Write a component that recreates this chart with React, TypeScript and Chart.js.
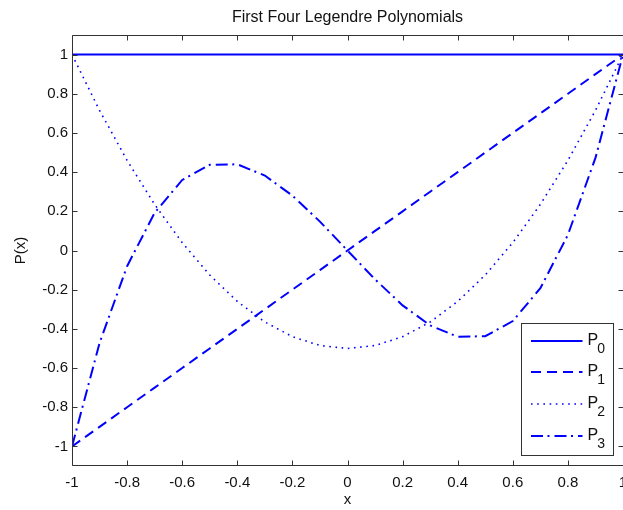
import { useEffect, useRef } from 'react';
import { Chart, registerables } from 'chart.js';

Chart.register(...registerables);

// ---- data ----
const xValues = [-1, -0.9, -0.8, -0.7, -0.6, -0.5, -0.4, -0.3, -0.2, -0.1, 0, 0.1, 0.2, 0.3, 0.4, 0.5, 0.6, 0.7, 0.8, 0.9, 1];
const p0Values = [1, 1, 1, 1, 1, 1, 1, 1, 1, 1, 1, 1, 1, 1, 1, 1, 1, 1, 1, 1, 1];
const p1Values = [-1, -0.9, -0.8, -0.7, -0.6, -0.5, -0.4, -0.3, -0.2, -0.1, 0, 0.1, 0.2, 0.3, 0.4, 0.5, 0.6, 0.7, 0.8, 0.9, 1];
const p2Values = [1, 0.715, 0.46, 0.235, 0.04, -0.125, -0.26, -0.365, -0.44, -0.485, -0.5, -0.485, -0.44, -0.365, -0.26, -0.125, 0.04, 0.235, 0.46, 0.715, 1];
const p3Values = [-1, -0.4725, -0.08, 0.1925, 0.36, 0.4375, 0.44, 0.3825, 0.28, 0.1475, 0, -0.1475, -0.28, -0.3825, -0.44, -0.4375, -0.36, -0.1925, 0.08, 0.4725, 1];

const seriesBase = ['P', 'P', 'P', 'P'];
const seriesSub = ['0', '1', '2', '3'];

const xTickValues = [-1, -0.8, -0.6, -0.4, -0.2, 0, 0.2, 0.4, 0.6, 0.8, 1];
const xTickLabels = ['-1', '-0.8', '-0.6', '-0.4', '-0.2', '0', '0.2', '0.4', '0.6', '0.8', '1'];
const yTickValues = [-1, -0.8, -0.6, -0.4, -0.2, 0, 0.2, 0.4, 0.6, 0.8, 1];
const yTickLabels = ['-1', '-0.8', '-0.6', '-0.4', '-0.2', '0', '0.2', '0.4', '0.6', '0.8', '1'];

const titleText = 'First Four Legendre Polynomials';
const xTitle = 'x';
const yTitle = 'P(x)';

// ---- styles ----
const FONT = '"Liberation Sans", Arial, Helvetica, sans-serif';
const BLUE = '#0000ff';
const AXIS = '#333333';
const TEXT = '#111111';

const W = 623;
const H = 510;

const frame = {
  id: 'frame',
  afterDatasetsDraw(chart: any) {
    const { ctx, chartArea: a, scales } = chart;
    const L = Math.round(a.left) + 0.5;
    const R = Math.round(a.right) + 0.5;
    const T = Math.round(a.top) + 0.5;
    const B = Math.round(a.bottom) - 0.5;
    const tl = 5;
    ctx.save();
    ctx.strokeStyle = AXIS;
    ctx.lineWidth = 1;
    ctx.beginPath();
    ctx.rect(L, T, R - L, B - T);
    for (const v of xTickValues) {
      const px = Math.round(scales.x.getPixelForValue(v)) + 0.5;
      ctx.moveTo(px, B);
      ctx.lineTo(px, B - tl);
      ctx.moveTo(px, T);
      ctx.lineTo(px, T + tl);
    }
    for (const v of yTickValues) {
      const py = Math.round(scales.y.getPixelForValue(v)) + 0.5;
      ctx.moveTo(L, py);
      ctx.lineTo(L + tl, py);
      ctx.moveTo(R, py);
      ctx.lineTo(R - tl, py);
    }
    ctx.stroke();
    ctx.restore();
  },
};

const legendBox = {
  id: 'legendBox',
  afterDraw(chart: any) {
    const { ctx, chartArea: a } = chart;
    const bw = 92;
    const bh = 132;
    const right = Math.round(a.right) - 9.5;
    const bottom = Math.round(a.bottom) - 10.5;
    const left = right - bw;
    const top = bottom - bh;
    ctx.save();
    ctx.fillStyle = '#ffffff';
    ctx.fillRect(left, top, bw, bh);
    ctx.strokeStyle = AXIS;
    ctx.lineWidth = 1;
    ctx.strokeRect(left, top, bw, bh);
    chart.data.datasets.forEach((ds: any, i: number) => {
      const y = Math.round(top + 17.2 + i * 31.7);
      ctx.save();
      ctx.strokeStyle = ds.borderColor;
      ctx.lineWidth = ds.borderWidth;
      ctx.setLineDash(ds.borderDash || []);
      ctx.beginPath();
      ctx.moveTo(left + 9.5, y);
      ctx.lineTo(left + 61, y);
      ctx.stroke();
      ctx.restore();
      ctx.fillStyle = TEXT;
      ctx.textBaseline = 'alphabetic';
      ctx.textAlign = 'left';
      ctx.font = `16px ${FONT}`;
      const tx = left + 66;
      ctx.fillText(seriesBase[i], tx, y + 4);
      const pw = ctx.measureText(seriesBase[i]).width;
      ctx.font = `14px ${FONT}`;
      ctx.fillText(seriesSub[i], tx + pw - 1, y + 11.5);
    });
    ctx.restore();
  },
};

const bgPlugin = {
  id: 'bg',
  beforeDraw(chart: any) {
    const { ctx } = chart;
    ctx.save();
    ctx.fillStyle = '#ffffff';
    ctx.fillRect(0, 0, chart.width, chart.height);
    ctx.restore();
  },
};

export default function App() {
  const ref = useRef<HTMLCanvasElement | null>(null);

  useEffect(() => {
    if (!ref.current) return;
    const mk = (vals: number[]) => xValues.map((x, i) => ({ x, y: vals[i] }));
    const chart = new Chart(ref.current, {
      type: 'line',
      data: {
        datasets: [
          { label: 'P_0', data: mk(p0Values), borderColor: BLUE, borderWidth: 2, borderDash: [], pointRadius: 0, tension: 0, fill: false },
          { label: 'P_1', data: mk(p1Values), borderColor: BLUE, borderWidth: 2, borderDash: [10, 6], pointRadius: 0, tension: 0, fill: false },
          { label: 'P_2', data: mk(p2Values), borderColor: BLUE, borderWidth: 1.6, borderDash: [1.6, 4.6], pointRadius: 0, tension: 0, fill: false },
          { label: 'P_3', data: mk(p3Values), borderColor: BLUE, borderWidth: 2, borderDash: [12, 4.5, 2, 5], pointRadius: 0, tension: 0, fill: false },
        ],
      },
      options: {
        responsive: false,
        animation: false,
        devicePixelRatio: 1,
        layout: { padding: { top: 0, right: 0, bottom: 0, left: 0 } },
        plugins: {
          legend: { display: false },
          tooltip: { enabled: false },
          title: {
            display: true,
            text: titleText,
            fullSize: false,
            color: TEXT,
            font: { family: FONT, size: 16, weight: 'normal', lineHeight: 1.25 },
            padding: { top: 8, bottom: 7 },
          },
        },
        scales: {
          x: {
            type: 'linear',
            min: -1,
            max: 1,
            grid: { display: false, drawTicks: false },
            border: { display: false },
            afterBuildTicks: (s: any) => { s.ticks = xTickValues.map((v) => ({ value: v })); },
            afterFit: (s: any) => { s.height = 44; s.paddingLeft = 0; s.paddingRight = 0; },
            ticks: {
              color: TEXT,
              font: { family: FONT, size: 15 },
              padding: 8,
              maxRotation: 0,
              autoSkip: false,
              callback: (_v: any, i: number) => xTickLabels[i],
            },
            title: {
              display: true,
              text: xTitle,
              color: TEXT,
              font: { family: FONT, size: 15, lineHeight: 1.2 },
              padding: { top: 0, bottom: 1 },
            },
          },
          y: {
            type: 'linear',
            min: -1.1,
            max: 1.1,
            grid: { display: false, drawTicks: false },
            border: { display: false },
            afterBuildTicks: (s: any) => { s.ticks = yTickValues.map((v) => ({ value: v })); },
            afterFit: (s: any) => { s.width = 72; s.paddingTop = 0; s.paddingBottom = 0; },
            ticks: {
              color: TEXT,
              font: { family: FONT, size: 15 },
              padding: 4,
              autoSkip: false,
              callback: (_v: any, i: number) => yTickLabels[i],
            },
            title: {
              display: true,
              text: yTitle,
              color: TEXT,
              font: { family: FONT, size: 15, lineHeight: 1.2 },
              padding: { top: 12, bottom: 0 },
            },
          },
        },
      },
      plugins: [bgPlugin, frame, legendBox],
    });
    return () => chart.destroy();
  }, []);

  return (
    <div style={{ position: 'fixed', left: 0, top: 0, width: W, height: H, background: '#fff' }}>
      <canvas ref={ref} width={W} height={H} style={{ display: 'block', width: W, height: H }} />
    </div>
  );
}
